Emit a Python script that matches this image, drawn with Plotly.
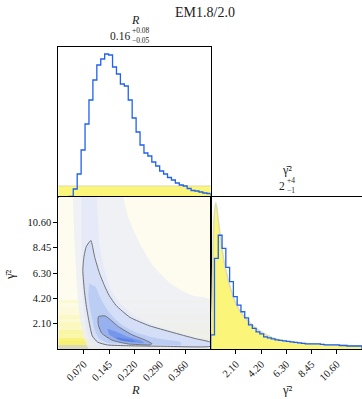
import plotly.graph_objects as go

# ---------------- data ----------------
# R marginal posterior (step histogram, arbitrary height units)
R_bin_start = 0.0315
R_bin_width = 0.01121
R_counts = [0.5, 8, 23, 47, 73, 97, 117, 132, 138, 143, 142, 130, 123, 113, 111, 97,
            79, 65, 52, 44, 41, 35, 31, 26, 23, 19.5, 17, 14, 12, 11, 8.5, 6.5, 6, 5, 4, 3.5]
# R prior (flat)
R_prior_x = [0.0, 0.435]
R_prior_y = [11, 11]

# gamma^2 marginal posterior (step histogram)
g_bin_start = 0.0
g_bin_width = 0.31875
g_counts = [14, 90, 113, 100, 81, 67, 52, 43.5, 37, 31, 24, 20.5, 17, 15, 12, 11, 10, 9,
            8.5, 8, 7.5, 7, 6.5, 6, 5.5, 5, 5, 5, 5, 4.5, 4, 4, 4, 4, 3.5, 3.5, 3, 3, 3, 3]
# gamma^2 prior curve
g_prior_x = [0.0, 0.1, 0.2, 0.3, 0.42, 0.52, 0.65, 0.76, 0.95, 1.3, 1.9, 2.45, 3.3, 4.0,
             4.7, 5.5, 6.4, 7.5, 8.6, 10.0, 11.5, 12.75]
g_prior_y = [0, 40, 100, 133, 145, 140, 127, 117, 100, 77, 52, 38, 26, 19,
             14, 10, 7.5, 6, 5, 4, 3.5, 3]

# 2D prior density stripes (per gamma^2 bin, relative intensity)
prior2d_stripes = [1.0, 0.9, 0.8, 0.5, 0.55, 0.35, 0.4, 0.25, 0.35, 0.2, 0.2, 0.12, 0.3] + [0.04] * 27

# 2D posterior: nested density regions (R, gamma^2)
lvl0_R = [0.042, 0.045, 0.049, 0.054, 0.060, 0.066, 0.072, 0.080, 0.088, 0.435, 0.435, 0.38, 0.32, 0.27, 0.23, 0.20, 0.185]
lvl0_g = [12.75, 10.0, 7.5, 5.0, 3.0, 1.8, 1.0, 0.4, 0.0, 0.0, 4.1, 4.5, 5.5, 7.0, 9.0, 11.0, 12.75]

lvl1_R = [0.066, 0.066, 0.067, 0.069, 0.074, 0.082, 0.093, 0.112, 0.2, 0.435, 0.435, 0.39, 0.33, 0.27, 0.215, 0.175, 0.15, 0.132, 0.118, 0.110]
lvl1_g = [12.75, 10.0, 7.3, 4.8, 2.8, 1.3, 0.55, 0.25, 0.18, 0.18, 0.65, 0.98, 1.5, 2.05, 2.85, 3.9, 5.0, 6.6, 8.7, 12.75]

outer_R = [0.093, 0.080, 0.073, 0.070, 0.074, 0.080, 0.087, 0.097, 0.112, 0.140, 0.20, 0.30, 0.435,
           0.435, 0.39, 0.325, 0.26, 0.205, 0.165, 0.145, 0.132, 0.117, 0.104, 0.097, 0.093]
outer_g = [9.1, 8.6, 7.7, 6.6, 5.0, 3.6, 2.4, 1.1, 0.58, 0.34, 0.27, 0.23, 0.24,
           0.55, 0.88, 1.40, 1.95, 2.65, 3.65, 4.5, 5.3, 6.4, 7.7, 8.7, 9.1]

lvl3_R = [0.088, 0.086, 0.090, 0.097, 0.105, 0.117, 0.14, 0.20, 0.29, 0.35, 0.35, 0.29, 0.23, 0.185, 0.15, 0.125, 0.107]
lvl3_g = [5.5, 4.5, 3.5, 2.5, 1.5, 0.85, 0.52, 0.40, 0.35, 0.34, 0.55, 0.85, 1.3, 1.95, 2.9, 4.0, 5.2]

inner_R = [0.1145, 0.134, 0.172, 0.210, 0.248, 0.267, 0.262, 0.225, 0.20, 0.153, 0.124, 0.1145, 0.1145]
inner_g = [2.71, 2.77, 1.87, 1.20, 0.75, 0.45, 0.34, 0.38, 0.42, 0.75, 1.32, 2.0, 2.71]

core_R = [0.14, 0.16, 0.20, 0.24, 0.245, 0.21, 0.17, 0.145]
core_g = [1.7, 1.5, 1.0, 0.65, 0.5, 0.55, 0.8, 1.2]

peak_R = [0.165, 0.19, 0.215, 0.22, 0.19, 0.17]
peak_g = [1.0, 0.85, 0.7, 0.6, 0.65, 0.8]

# tick labels
R_tickvals = [0.0725, 0.145, 0.2175, 0.29, 0.3625]
R_ticktext = ["0.070", "0.145", "0.220", "0.290", "0.360"]
g_tickvals = [2.125, 4.25, 6.375, 8.5, 10.625]
g_ticktext = ["2.10", "4.20", "6.30", "8.45", "10.60"]

title_text = "EM1.8/2.0"
R_label = "<i>R</i>"
g_label = "γ̄²"
R_median, R_plus, R_minus = "0.16", "+0.08", "−0.05"
g_median, g_plus, g_minus = "2", "+4", "−1"

# ---------------- figure ----------------
W, H = 362, 399
FONT = "Liberation Serif"
R_range = [0.0, 0.435]
g_range = [0.0, 12.75]


def px(xp):
    return xp / W


def py(yp):
    return 1 - yp / H


def step_xy(start, width, counts):
    edges = [start + i * width for i in range(len(counts) + 1)]
    xs = [edges[0]] + edges + [edges[-1]]
    ys = [0] + list(counts) + [counts[-1], 0]
    return xs, ys


fig = go.Figure()

# --- 2D panel ---
g_edges = [g_bin_start + i * g_bin_width for i in range(len(prior2d_stripes) + 1)]
fig.add_trace(go.Heatmap(
    x=R_range, y=g_edges, z=[[v] for v in prior2d_stripes],
    colorscale=[[0, "#fdfdf3"], [0.3, "#fbf9cf"], [0.6, "#f9f59a"], [0.9, "#f7f070"], [1.0, "#d9d9bb"]],
    zmin=0, zmax=1, showscale=False, hoverinfo="skip", xaxis="x2", yaxis="y2"))

fills = [
    (lvl0_R, lvl0_g, "rgba(235,238,247,0.82)"),
    (lvl1_R, lvl1_g, "rgba(228,233,248,0.85)"),
    (outer_R, outer_g, "rgba(210,220,246,0.88)"),
    (lvl3_R, lvl3_g, "rgba(185,203,243,0.9)"),
    (inner_R, inner_g, "rgba(148,175,239,0.92)"),
    (core_R, core_g, "rgba(114,148,233,0.92)"),
    (peak_R, peak_g, "rgba(88,125,228,0.92)"),
]
for rx, gy, col in fills:
    fig.add_trace(go.Scatter(x=rx, y=gy, mode="lines", fill="toself", fillcolor=col,
                             line=dict(width=0, shape="spline", smoothing=0.6),
                             xaxis="x2", yaxis="y2", hoverinfo="skip", showlegend=False))
for rx, gy in [(outer_R, outer_g), (inner_R, inner_g)]:
    fig.add_trace(go.Scatter(x=rx, y=gy, mode="lines",
                             line=dict(color="#707070", width=1, shape="spline", smoothing=0.5),
                             xaxis="x2", yaxis="y2", hoverinfo="skip", showlegend=False))

# --- top-left: R marginal ---
fig.add_trace(go.Scatter(x=R_prior_x, y=R_prior_y, mode="lines", fill="tozeroy",
                         fillcolor="#fbf67a", line=dict(color="#dedcaa", width=1.2),
                         xaxis="x", yaxis="y", hoverinfo="skip", showlegend=False))
rx, ry = step_xy(R_bin_start, R_bin_width, R_counts)
fig.add_trace(go.Scatter(x=rx, y=ry, mode="lines", line=dict(color="#2160f0", width=1.3, shape="hv"),
                         xaxis="x", yaxis="y", hoverinfo="skip", showlegend=False))

# --- bottom-right: gamma^2 marginal ---
fig.add_trace(go.Scatter(x=g_prior_x, y=g_prior_y, mode="lines", fill="tozeroy",
                         fillcolor="#fbf67a", line=dict(color="#dcdcb8", width=1.5, shape="spline"),
                         xaxis="x3", yaxis="y3", hoverinfo="skip", showlegend=False))
gx, gy = step_xy(g_bin_start, g_bin_width, g_counts)
fig.add_trace(go.Scatter(x=gx, y=gy, mode="lines", line=dict(color="#2160f0", width=1.3, shape="hv"),
                         xaxis="x3", yaxis="y3", hoverinfo="skip", showlegend=False))

xL = [px(58.3), px(210.7)]
xR = [px(210.7), 1.0]
yT = [py(197), py(47)]
yB = [py(349), py(197)]

tickfont = dict(family=FONT, size=10.5, color="#111")
common = dict(showgrid=False, zeroline=False, showline=True, linecolor="black", linewidth=1)

fig.update_layout(
    width=W, height=H, margin=dict(l=0, r=0, t=0, b=0),
    paper_bgcolor="white", plot_bgcolor="white", showlegend=False,
    xaxis=dict(domain=xL, range=R_range, anchor="y", showticklabels=False, ticks="", mirror=True, **common),
    yaxis=dict(domain=yT, range=[0, 150], anchor="x", showticklabels=False, ticks="", mirror=True, **common),
    xaxis2=dict(domain=xL, range=R_range, anchor="y2", mirror=True, ticks="outside", ticklen=4,
                tickwidth=1, tickcolor="black", tickvals=R_tickvals, ticktext=R_ticktext,
                tickangle=-45, tickfont=tickfont, **common),
    yaxis2=dict(domain=yB, range=g_range, anchor="x2", mirror=True, ticks="outside", ticklen=4,
                tickwidth=1, tickcolor="black", tickvals=g_tickvals, ticktext=g_ticktext,
                tickfont=tickfont, **common),
    xaxis3=dict(domain=xR, range=g_range, anchor="y3", mirror=True, ticks="outside", ticklen=4,
                tickwidth=1, tickcolor="black", tickvals=g_tickvals, ticktext=g_ticktext,
                tickangle=-45, tickfont=tickfont, **common),
    yaxis3=dict(domain=yB, range=[0, 151], anchor="x3", mirror=False, showticklabels=False, ticks="",
                **common),
)


def ann(text, x, y, size, xanchor="center", yanchor="middle", angle=0):
    fig.add_annotation(text=text, x=px(x), y=py(y), xref="paper", yref="paper",
                       xanchor=xanchor, yanchor=yanchor, showarrow=False, textangle=angle,
                       borderpad=0, font=dict(family=FONT, size=size, color="#222"))


ann(title_text, 205, 13, 14)
ann(R_label, 135, 20.5, 12)
ann(R_median, 131, 35.5, 11.5, xanchor="right")
ann(R_plus, 130.5, 30.5, 7.5, xanchor="left")
ann(R_minus, 130.5, 40.5, 7.5, xanchor="left")
ann(g_label, 287, 169.5, 12)
ann(g_median, 285.5, 185.5, 11.5, xanchor="right")
ann(g_plus, 285.5, 181, 7.5, xanchor="left")
ann(g_minus, 285.5, 190.5, 7.5, xanchor="left")
ann(g_label, 10, 275, 12.5, angle=-90)
ann(R_label, 135, 390, 12.5)
ann(g_label, 287, 390, 12.5)

fig.write_html("out.html", config={"displayModeBar": False},
               post_script="document.body.style.margin='0';document.body.style.overflow='hidden';")
